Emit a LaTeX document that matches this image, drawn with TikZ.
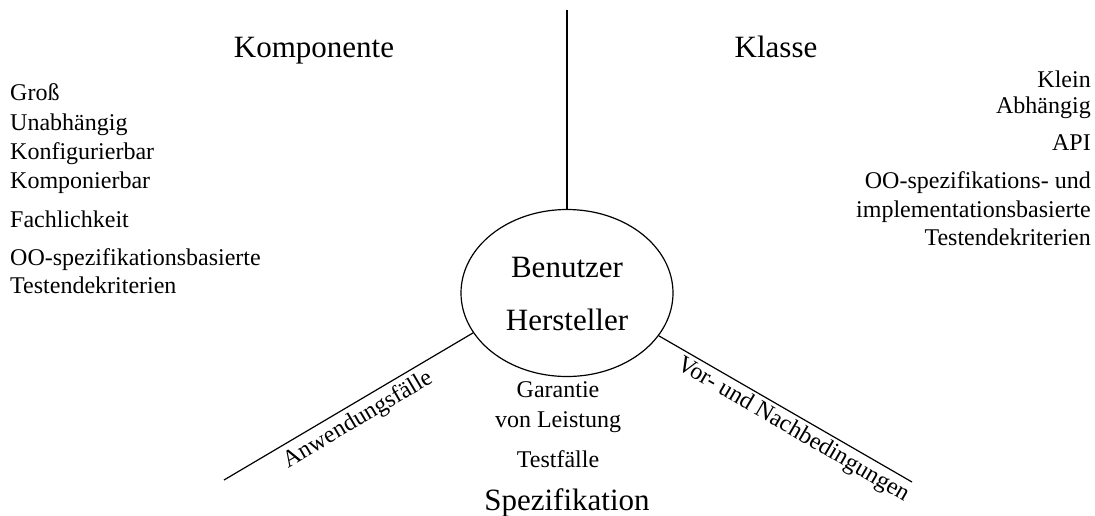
\documentclass[tikz,border=0pt]{standalone}
\usepackage{fontspec}
\setmainfont{Liberation Serif}
\usetikzlibrary{shapes.geometric}
\begin{document}
\begin{tikzpicture}[x=1pt,y=-1pt,
  txt/.style={inner sep=0pt, font=\fontsize{24}{28}\selectfont},
  big/.style={inner sep=0pt, font=\fontsize{31}{36}\selectfont},
  conn/.style={line width=1.2pt},
  lft/.style={txt, anchor=base west},
  rgt/.style={txt, anchor=base east},
  mid/.style={txt, anchor=base}]
\useasboundingbox (0,0) rectangle (1095,515);
% central ellipse
\node[draw, ellipse, line width=1.2pt, minimum width=212pt, minimum height=167pt, inner sep=0pt] (ell) at (567,293) {};
\node[big, anchor=base] (benutzer) at (567,277) {Benutzer};
\node[big, anchor=base] (hersteller) at (567,330) {Hersteller};
% connectors
\coordinate (top) at (567,10);
\coordinate (lend) at (224,480);
\coordinate (rend) at (912,482);
\draw[conn] (ell.north) -- (top);
\draw[conn] (ell.203) -- (lend);
\draw[conn] (ell.335.5) -- (rend);
% line labels
\node[txt, rotate=30.5] (anw) at (358,420) {Anwendungsfälle};
\node[txt, rotate=-30.3] (vor) at (793,430) {Vor- und Nachbedingungen};
% titles
\node[big, anchor=base] (komp) at (314,57) {Komponente};
\node[big, anchor=base] (klasse) at (776,57) {Klasse};
\node[big, anchor=base] (spez) at (567,510) {Spezifikation};
% left list
\node[lft] (l1) at (10,100) {Groß};
\node[lft] (l2) at (10,130) {Unabhängig};
\node[lft] (l3) at (10,159) {Konfigurierbar};
\node[lft] (l4) at (10,188) {Komponierbar};
\node[lft] (l5) at (10,227) {Fachlichkeit};
\node[lft] (l6) at (10,265) {OO-spezifikationsbasierte};
\node[lft] (l7) at (10,293) {Testendekriterien};
% right list
\node[rgt] (r1) at (1091,87) {Klein};
\node[rgt] (r2) at (1091,113) {Abhängig};
\node[rgt] (r3) at (1091,150) {API};
\node[rgt] (r4) at (1091,188) {OO-spezifikations- und};
\node[rgt] (r5) at (1091,217) {implementationsbasierte};
\node[rgt] (r6) at (1091,245) {Testendekriterien};
% bottom centre
\node[mid] (c1) at (558,397) {Garantie};
\node[mid] (c2) at (558,427) {von Leistung};
\node[mid] (c3) at (558,467) {Testfälle};
\end{tikzpicture}
\end{document}
